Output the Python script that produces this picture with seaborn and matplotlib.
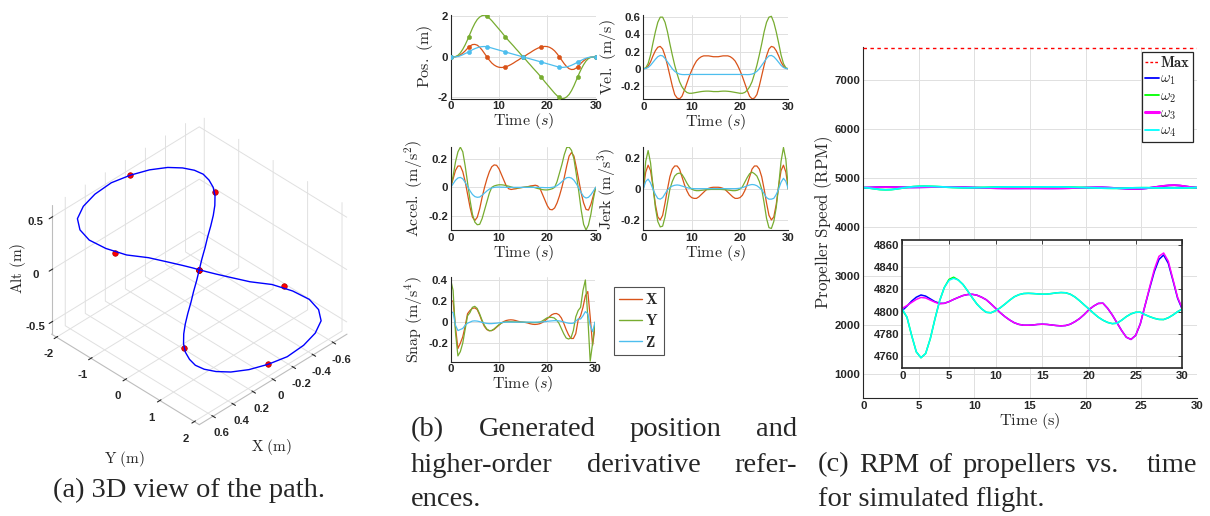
import numpy as np
import pandas as pd
import matplotlib
matplotlib.use("Agg")
import matplotlib.pyplot as plt
import matplotlib.ticker as mticker
from matplotlib.lines import Line2D
import seaborn as sns

sns.set_style("white")
plt.rcParams['font.family'] = ['Liberation Sans', 'DejaVu Sans']
plt.rcParams['font.weight'] = 'bold'
plt.rcParams['mathtext.fontset'] = 'cm'
plt.rcParams['axes.unicode_minus'] = False
plt.rcParams['grid.color'] = '#e0e0e0'
plt.rcParams['grid.linewidth'] = 0.7

W, H = 1210, 516

# ---------------- data ----------------
t_b = np.arange(0, 30.01, 0.5)

wp_t = [0, 3.75, 7.5, 11.25, 15, 18.75, 22.5, 26.25, 30]
wp_x = [0, 0.5, 0, -0.5, 0, 0.5, 0, -0.5, 0]
wp_y = [0, 1, 2, 1, 0, -1, -2, -1, 0]
wp_z = [0, 0.25, 0.5, 0.25, 0, -0.25, -0.5, -0.25, 0]

pos_x = [0, 0, 0.01, 0.04, 0.1, 0.19, 0.3, 0.43, 0.54, 0.61, 0.62, 0.58, 0.48, 0.34, 0.17, 0,
         -0.16, -0.3, -0.4, -0.47, -0.51, -0.52, -0.51, -0.48, -0.43, -0.37, -0.3, -0.22, -0.15, -0.07, 0,
         0.07, 0.15, 0.22, 0.3, 0.37, 0.43, 0.48, 0.51, 0.52, 0.51, 0.47, 0.4, 0.3, 0.16, 0,
         -0.17, -0.34, -0.48, -0.58, -0.62, -0.61, -0.54, -0.43, -0.3, -0.19, -0.1, -0.04, -0.01, 0, 0]
pos_y = [0, 0.003, 0.02, 0.08, 0.2, 0.38, 0.6, 0.86, 1.14, 1.42, 1.66, 1.85, 1.97, 2.04, 2.06, 2.0,
         1.91, 1.79, 1.65, 1.51, 1.37, 1.23, 1.08, 0.94, 0.8, 0.67, 0.54, 0.4, 0.27, 0.13, 0,
         -0.13, -0.27, -0.4, -0.54, -0.67, -0.8, -0.94, -1.08, -1.23, -1.37, -1.51, -1.65, -1.79, -1.91, -2.0,
         -2.06, -2.04, -1.97, -1.85, -1.66, -1.42, -1.14, -0.86, -0.6, -0.38, -0.2, -0.08, -0.02, -0.003, 0]
pos_z = [0, 0.001, 0.006, 0.025, 0.06, 0.11, 0.17, 0.22, 0.29, 0.355, 0.41, 0.455, 0.49, 0.51, 0.515, 0.5,
         0.475, 0.44, 0.405, 0.37, 0.337, 0.303, 0.27, 0.235, 0.2, 0.167, 0.133, 0.1, 0.067, 0.033, 0,
         -0.033, -0.067, -0.1, -0.133, -0.167, -0.2, -0.235, -0.27, -0.303, -0.337, -0.37, -0.405, -0.44, -0.475, -0.5,
         -0.515, -0.51, -0.49, -0.455, -0.41, -0.355, -0.29, -0.22, -0.17, -0.11, -0.06, -0.025, -0.006, -0.001, 0]

vel_x = [0, 0.005, 0.03, 0.08, 0.15, 0.21, 0.25, 0.26, 0.23, 0.15, 0.04, -0.08, -0.2, -0.3, -0.34, -0.35,
         -0.32, -0.25, -0.17, -0.09, -0.02, 0.04, 0.09, 0.12, 0.14, 0.15, 0.15, 0.15, 0.145, 0.14, 0.14,
         0.14, 0.145, 0.15, 0.15, 0.15, 0.14, 0.12, 0.09, 0.04, -0.02, -0.09, -0.17, -0.25, -0.32, -0.35,
         -0.34, -0.3, -0.2, -0.08, 0.04, 0.15, 0.23, 0.26, 0.25, 0.21, 0.15, 0.08, 0.03, 0.005, 0]
vel_y = [0, 0.01, 0.06, 0.16, 0.3, 0.43, 0.54, 0.6, 0.6, 0.54, 0.43, 0.29, 0.16, 0.04, -0.06, -0.15,
         -0.21, -0.25, -0.275, -0.285, -0.285, -0.28, -0.275, -0.27, -0.265, -0.262, -0.26, -0.26, -0.262, -0.265, -0.265,
         -0.265, -0.262, -0.26, -0.26, -0.262, -0.265, -0.27, -0.275, -0.28, -0.285, -0.285, -0.275, -0.25, -0.21, -0.15,
         -0.06, 0.04, 0.16, 0.29, 0.43, 0.54, 0.6, 0.61, 0.54, 0.43, 0.3, 0.16, 0.06, 0.01, 0]
vel_z = [0, 0.003, 0.015, 0.04, 0.075, 0.11, 0.14, 0.155, 0.15, 0.12, 0.08, 0.04, 0.0, -0.03, -0.05, -0.062,
         -0.067, -0.068, -0.067, -0.067, -0.066, -0.066, -0.066, -0.066, -0.066, -0.066, -0.066, -0.066, -0.066, -0.066, -0.066,
         -0.066, -0.066, -0.066, -0.066, -0.066, -0.066, -0.066, -0.066, -0.066, -0.066, -0.067, -0.067, -0.068, -0.067, -0.062,
         -0.05, -0.03, 0.0, 0.04, 0.08, 0.12, 0.15, 0.155, 0.14, 0.11, 0.075, 0.04, 0.015, 0.003, 0]

acc_x = [0, 0.06, 0.12, 0.15, 0.15, 0.11, 0.04, -0.05, -0.14, -0.21, -0.233, -0.21, -0.15, -0.07, 0.0, 0.06,
         0.11, 0.145, 0.158, 0.155, 0.13, 0.09, 0.05, 0.01, -0.01, -0.015, -0.012, -0.01, -0.005, -0.002, 0,
         0.002, 0.005, 0.01, 0.012, 0.015, 0.01, -0.01, -0.05, -0.09, -0.13, -0.155, -0.158, -0.145, -0.11, -0.06,
         0.0, 0.07, 0.15, 0.22, 0.245, 0.22, 0.14, 0.05, -0.04, -0.11, -0.155, -0.16, -0.12, -0.06, 0]
acc_y = [0, 0.08, 0.18, 0.25, 0.283, 0.25, 0.15, 0.03, -0.09, -0.19, -0.245, -0.263, -0.26, -0.22, -0.16, -0.1,
         -0.04, 0.0, 0.01, 0.015, 0.018, 0.018, 0.016, 0.012, 0.008, 0.003, -0.002, -0.004, -0.004, -0.002, 0,
         0.002, 0.004, 0.004, 0.002, -0.003, -0.008, -0.012, -0.016, -0.018, -0.018, -0.015, -0.01, 0.0, 0.04, 0.1,
         0.16, 0.23, 0.28, 0.283, 0.26, 0.2, 0.09, -0.03, -0.16, -0.26, -0.3, -0.265, -0.19, -0.085, 0]
acc_z = [0, 0.025, 0.05, 0.066, 0.07, 0.06, 0.035, 0.005, -0.025, -0.05, -0.065, -0.07, -0.068, -0.055, -0.04, -0.025,
         -0.012, -0.004, 0.0, 0.002, 0.002, 0.001, 0.001, 0.0, 0.0, 0.0, 0.0, 0.0, 0.0, 0.0, 0,
         0, 0, 0, 0, 0, 0, -0.001, -0.001, -0.002, -0.002, -0.002, 0.0, 0.004, 0.012, 0.025,
         0.04, 0.055, 0.068, 0.07, 0.065, 0.05, 0.025, -0.005, -0.037, -0.065, -0.075, -0.07, -0.052, -0.027, 0]

jrk_x = [0, 0.11, 0.155, 0.12, 0.02, -0.1, -0.18, -0.2, -0.17, -0.09, 0.0, 0.08, 0.13, 0.15, 0.15, 0.13,
         0.08, 0.03, -0.01, -0.04, -0.055, -0.06, -0.06, -0.05, -0.035, -0.02, -0.005, 0.005, 0.01, 0.012, 0.012,
         0.012, 0.01, 0.005, -0.005, -0.02, -0.035, -0.05, -0.06, -0.06, -0.055, -0.04, -0.01, 0.03, 0.08, 0.13,
         0.15, 0.15, 0.13, 0.08, 0.0, -0.09, -0.17, -0.2, -0.18, -0.1, 0.02, 0.12, 0.155, 0.11, 0]
jrk_y = [0, 0.18, 0.25, 0.17, 0.02, -0.12, -0.21, -0.245, -0.24, -0.18, -0.09, 0.0, 0.05, 0.085, 0.1, 0.104,
         0.095, 0.07, 0.04, 0.015, 0.0, -0.007, -0.01, -0.01, -0.008, -0.006, -0.004, -0.003, -0.002, -0.002, -0.002,
         -0.002, -0.002, -0.003, -0.004, -0.006, -0.008, -0.01, -0.01, -0.007, 0.0, 0.015, 0.045, 0.075, 0.1, 0.11,
         0.1, 0.085, 0.05, 0.0, -0.09, -0.19, -0.25, -0.255, -0.21, -0.12, 0.02, 0.18, 0.27, 0.19, 0]
jrk_z = [0, 0.05, 0.065, 0.04, 0.0, -0.035, -0.06, -0.065, -0.055, -0.03, -0.005, 0.01, 0.02, 0.025, 0.027, 0.025,
         0.02, 0.015, 0.01, 0.006, 0.004, 0.003, 0.003, 0.003, 0.003, 0.003, 0.003, 0.003, 0.003, 0.003, 0.003,
         0.003, 0.003, 0.003, 0.003, 0.003, 0.003, 0.003, 0.003, 0.004, 0.006, 0.01, 0.015, 0.022, 0.027, 0.03,
         0.028, 0.022, 0.01, -0.005, -0.03, -0.055, -0.065, -0.065, -0.06, -0.035, 0.0, 0.045, 0.07, 0.05, 0]

snp_x = [0.2, 0.2, -0.05, -0.25, -0.2, -0.14, -0.04, 0.08, 0.11, 0.13, 0.135, 0.12, 0.07, 0.01, -0.04, -0.07,
         -0.082, -0.08, -0.07, -0.05, -0.03, -0.01, 0.005, 0.015, 0.02, 0.022, 0.02, 0.015, 0.008, 0.003, 0.0,
         -0.003, -0.008, -0.015, -0.02, -0.022, -0.02, -0.015, -0.005, 0.01, 0.03, 0.05, 0.07, 0.08, 0.082, 0.07,
         0.04, -0.01, -0.07, -0.12, -0.155, -0.155, -0.11, 0.02, 0.06, 0.14, 0.25, 0.29, 0.05, -0.22, -0.05]
snp_y = [0.4, 0.3, -0.1, -0.32, -0.28, -0.2, -0.07, 0.06, 0.09, 0.14, 0.15, 0.13, 0.08, 0.02, -0.03, -0.065,
         -0.08, -0.08, -0.065, -0.045, -0.025, -0.01, 0.0, 0.003, 0.004, 0.004, 0.003, 0.002, 0.001, 0.0, 0.0,
         -0.001, -0.002, -0.003, -0.004, -0.004, -0.003, 0.0, 0.01, 0.025, 0.04, 0.045, 0.045, 0.04, 0.02, -0.01,
         -0.06, -0.11, -0.15, -0.16, -0.15, -0.08, 0.05, 0.11, 0.14, 0.3, 0.4, 0.05, -0.37, -0.2, 0.0]
snp_z = [0.1, 0.09, -0.03, -0.08, -0.07, -0.06, -0.03, -0.01, 0.0, 0.01, 0.012, 0.01, 0.005, -0.002, -0.008, -0.012,
         -0.014, -0.014, -0.012, -0.01, -0.007, -0.004, -0.002, 0.0, 0.0, 0.0, 0.0, 0.0, 0.0, 0.0, 0.0,
         0.0, 0.0, 0.0, 0.0, 0.0, 0.0, 0.0, 0.002, 0.004, 0.007, 0.01, 0.012, 0.014, 0.014, 0.012,
         0.008, 0.002, -0.005, -0.01, -0.012, -0.01, 0.01, 0.03, 0.03, 0.06, 0.1, 0.08, -0.03, -0.09, 0.0]

t_rpm = np.arange(0, 30.01, 0.5)
rpm_max = 7650
rpm_w1 = [4801, 4805, 4809.5, 4813, 4815, 4814, 4811.5, 4809, 4807.5, 4807.5,
          4809, 4811, 4812.8, 4814.5, 4815.4, 4815.6, 4814.8, 4813, 4810.7, 4807,
          4803, 4799, 4795.5, 4792.5, 4790, 4788.5, 4787.8, 4787.8, 4788, 4788.5,
          4788.7, 4788.5, 4788, 4787.5, 4787.2, 4787.5, 4788.7, 4791, 4793.8, 4797.5,
          4801.8, 4805, 4807.4, 4807.6, 4803, 4797, 4790, 4783, 4777, 4775,
          4778.6, 4789, 4805.3, 4821, 4836, 4847, 4851, 4843.5, 4828, 4812, 4802]
rpm_w2 = [4801.5, 4795, 4778.6, 4763.8, 4758.5, 4762.3, 4775.7, 4793.5, 4809.8, 4821.7,
          4829, 4831, 4828.5, 4824.5, 4818.7, 4812.5, 4806.8, 4802.5, 4799.4, 4799,
          4800.9, 4803.5, 4806.8, 4810.3, 4813.4, 4815.3, 4816.3, 4816.5, 4816.3, 4816,
          4815.7, 4815.8, 4816.3, 4816.9, 4817.2, 4817, 4815.7, 4813.2, 4809.8, 4806,
          4802.4, 4798.5, 4795, 4792.3, 4790.3, 4789.2, 4789.6, 4792.3, 4795.5, 4798,
          4799.4, 4799.5, 4797.3, 4795.5, 4794, 4793, 4792.9, 4794.5, 4797, 4800, 4802.4]
rpm_w3 = [4803, 4805.5, 4808.3, 4811, 4812.8, 4812.3, 4810.4, 4808.5, 4807, 4807.5,
          4809, 4811, 4812.8, 4814.5, 4815.4, 4815.6, 4814.8, 4813, 4810.7, 4807,
          4803, 4799, 4795.5, 4792.5, 4790, 4788.5, 4787.8, 4787.8, 4788, 4788.5,
          4788.7, 4788.5, 4788, 4787.5, 4787.2, 4787.5, 4788.7, 4791, 4793.8, 4797.5,
          4801.8, 4805, 4807.4, 4807.6, 4803, 4797, 4790, 4783, 4777, 4775,
          4778.6, 4789, 4805.3, 4822, 4838, 4849.8, 4852.8, 4845.4, 4829, 4812.8, 4803]
rpm_w4 = [4802.4, 4795, 4778.6, 4763.8, 4758.5, 4762.3, 4775.7, 4793.5, 4809.8, 4821.7,
          4828.2, 4830, 4828.5, 4824.5, 4818.7, 4812.5, 4806.8, 4802.5, 4799.4, 4799,
          4800.9, 4803.5, 4806.8, 4810.3, 4813.4, 4815.3, 4816.3, 4816.5, 4816.3, 4816,
          4815.7, 4815.8, 4816.3, 4816.9, 4817.2, 4817, 4815.7, 4813.2, 4809.8, 4806,
          4802.4, 4798.5, 4795, 4792.3, 4790.3, 4789.2, 4789.6, 4792.3, 4795.5, 4798,
          4799.4, 4799.5, 4797.3, 4795.5, 4794, 4793, 4792.9, 4794.5, 4797, 4800, 4802.4]

C_X, C_Y, C_Z = '#D95319', '#77AC30', '#4DBEEE'
TXT = '#262626'
TICK_FS = 8.2

fig = plt.figure(figsize=(W / 100, H / 100), dpi=100)


def box(l, t, r, b, **kw):
    return fig.add_axes([l / W, 1 - b / H, (r - l) / W, (b - t) / H], **kw)


def boldticks(ax):
    for lab in ax.get_xticklabels() + ax.get_yticklabels():
        lab.set_fontweight('bold')
        lab.set_fontfamily('Liberation Sans')


def style2d(ax, ylim, yticks, ylabel, xlim=(0, 30), xticks=(0, 10, 20, 30), fs=11.5):
    ax.set_xlim(*xlim)
    ax.set_ylim(*ylim)
    ax.set_xticks(xticks)
    ax.set_yticks(yticks)
    ax.xaxis.set_major_formatter(mticker.FormatStrFormatter('%g'))
    ax.yaxis.set_major_formatter(mticker.FormatStrFormatter('%g'))
    ax.grid(True)
    ax.tick_params(direction='in', length=3, width=0.6, colors=TXT, labelsize=TICK_FS, pad=2)
    for s in ['top', 'right']:
        ax.spines[s].set_visible(False)
    for s in ['left', 'bottom']:
        ax.spines[s].set_color(TXT)
        ax.spines[s].set_linewidth(0.8)
    ax.set_xlabel(r'$\mathrm{Time}\ (s)$', fontsize=fs, labelpad=0)
    ax.set_ylabel(ylabel, fontsize=fs, labelpad=2)
    boldticks(ax)


def draw3(ax, sx, sy, sz):
    for s, c in zip((sx, sy, sz), (C_X, C_Y, C_Z)):
        sns.lineplot(x=t_b, y=s, ax=ax, color=c, linewidth=0.9, legend=False)


# ---------------- panel (b) ----------------
ax_p = box(450.7, 15, 595.7, 98.7)
draw3(ax_p, pos_x, pos_y, pos_z)
for s, c in zip((wp_x, wp_y, wp_z), (C_X, C_Y, C_Z)):
    sns.scatterplot(x=wp_t, y=s, ax=ax_p, color=c, s=9, edgecolor=c, linewidth=0.4, legend=False, zorder=3)
style2d(ax_p, (-2.06, 2.07), [-2, 0, 2], r'$\mathrm{Pos.\ (m)}$')

ax_v = box(643.3, 15, 788.3, 99.3)
draw3(ax_v, vel_x, vel_y, vel_z)
style2d(ax_v, (-0.355, 0.625), [-0.2, 0, 0.2, 0.4, 0.6], r'$\mathrm{Vel.\ (m/s)}$')

ax_a = box(450.7, 146.7, 595.7, 230)
draw3(ax_a, acc_x, acc_y, acc_z)
style2d(ax_a, (-0.30, 0.286), [-0.2, 0, 0.2], r'$\mathrm{Accel.\ (m/s^2)}$')

ax_j = box(643.3, 146.7, 788.3, 230)
draw3(ax_j, jrk_x, jrk_y, jrk_z)
style2d(ax_j, (-0.265, 0.275), [-0.2, 0, 0.2], r'$\mathrm{Jerk\ (m/s^3)}$')

ax_s = box(450.7, 277.3, 595.0, 361.7)
draw3(ax_s, snp_x, snp_y, snp_z)
style2d(ax_s, (-0.375, 0.425), [-0.2, 0, 0.2, 0.4], r'$\mathrm{Snap\ (m/s^4)}$')

hb = [Line2D([], [], color=c, lw=1.0) for c in (C_X, C_Y, C_Z)]
lgb = fig.legend(hb, [r'$\mathbf{X}$', r'$\mathbf{Y}$', r'$\mathbf{Z}$'],
                 loc='upper left', bbox_to_anchor=(614 / W, 1 - 287 / H),
                 frameon=True, fancybox=False, edgecolor=TXT, fontsize=11,
                 handlelength=1.5, handletextpad=0.2, borderpad=0.35, labelspacing=0.4,
                 borderaxespad=0)
lgb.get_frame().set_linewidth(0.8)

# ---------------- panel (c) ----------------
ax_c = box(863.3, 47.3, 1196.7, 398.3)
ax_c.axhline(rpm_max, color='red', linestyle=(0, (2.5, 2.5)), linewidth=1.0, zorder=4)
for s, c in zip((rpm_w1, rpm_w2, rpm_w3, rpm_w4), ('#0000FF', '#00FF00', '#FF00FF', '#00FFFF')):
    sns.lineplot(x=t_rpm, y=s, ax=ax_c, color=c, linewidth=1.3, legend=False)
style2d(ax_c, (500, 7668), [1000, 2000, 3000, 4000, 5000, 6000, 7000], r'$\mathrm{Propeller\ Speed\ (RPM)}$',
        xticks=[0, 5, 10, 15, 20, 25, 30])
ax_c.set_xlabel(r'$\mathrm{Time\ (s)}$', fontsize=11.8, labelpad=0)
ax_c.set_ylabel(r'$\mathrm{Propeller\ Speed\ (RPM)}$', fontsize=12.2, labelpad=0)

hc = [Line2D([], [], color='red', lw=1.0, ls=(0, (2, 1.5))),
      Line2D([], [], color='#0000FF', lw=1.3), Line2D([], [], color='#00FF00', lw=1.3),
      Line2D([], [], color='#FF00FF', lw=2.2), Line2D([], [], color='#00FFFF', lw=1.3)]
lgc = ax_c.legend(hc, [r'$\mathbf{Max}$', r'$\omega_1$', r'$\omega_2$', r'$\omega_3$', r'$\omega_4$'],
                  loc='upper right', bbox_to_anchor=((1193.3 - 863.3) / 333.4, 1 - (52.3 - 47.3) / 351),
                  frameon=True, fancybox=False, edgecolor=TXT, fontsize=10.5,
                  handlelength=0.9, handletextpad=0.1, borderpad=0.2, labelspacing=0.12,
                  borderaxespad=0, framealpha=1)
lgc.get_frame().set_linewidth(0.9)

ax_i = box(902.3, 240, 1182.3, 368.3)
for s, c in zip((rpm_w1, rpm_w2, rpm_w3, rpm_w4), ('#0000FF', '#00FF00', '#FF00FF', '#00FFFF')):
    sns.lineplot(x=t_rpm, y=s, ax=ax_i, color=c, linewidth=1.1, legend=False)
ax_i.set_xlim(0, 30)
ax_i.set_ylim(4749, 4864.5)
ax_i.set_xticks([0, 5, 10, 15, 20, 25, 30])
ax_i.set_yticks([4760, 4780, 4800, 4820, 4840, 4860])
ax_i.grid(True)
ax_i.set_facecolor('white')
ax_i.tick_params(direction='in', length=3, width=0.6, colors=TXT, labelsize=TICK_FS, pad=2,
                 top=True, right=True)
for s in ax_i.spines.values():
    s.set_visible(True)
    s.set_color(TXT)
    s.set_linewidth(1.2)
ax_i.set_xlabel('')
ax_i.set_ylabel('')
boldticks(ax_i)

# ---------------- panel (a) 3D ----------------
ax3 = box(-1, 75, 389, 475, projection='3d')
ax3.set_proj_type('ortho')
ax3.view_init(elev=37.8, azim=45)
ax3.set_box_aspect((1, 1, 0.78), zoom=0.84)
path_y = [-v for v in pos_y]
ax3.plot(pos_x, path_y, pos_z, color='#0000FF', linewidth=1.0)
ax3.scatter(wp_x, [-v for v in wp_y], wp_z, color='red', s=16, edgecolor='#aa0000', linewidth=0.5,
            depthshade=False, zorder=5)
ax3.set_xlim(-0.737, 0.737)
ax3.set_ylim(-2.145, 2.145)
ax3.set_zlim(-0.615, 0.615)
ax3.set_xticks([-0.6, -0.4, -0.2, 0, 0.2, 0.4, 0.6])
ax3.set_yticks([-2, -1, 0, 1, 2])
ax3.set_zticks([-0.5, 0, 0.5])
for a in (ax3.xaxis, ax3.yaxis, ax3.zaxis):
    a.set_pane_color((1, 1, 1, 0))
    a.pane.set_edgecolor('#d8d8d8')
    a.line.set_color('#bdbdbd')
    a.line.set_linewidth(0.8)
    a.set_major_formatter(mticker.FormatStrFormatter('%g'))
ax3.tick_params(labelsize=TICK_FS, colors=TXT, pad=0)
for lab in ax3.get_xticklabels() + ax3.get_yticklabels() + ax3.get_zticklabels():
    lab.set_fontweight('bold')
ax3.set_xlabel('')
ax3.set_ylabel('')
ax3.set_zlabel('')

fig.text(18 / W, 1 - 268 / H, r'$\mathrm{Alt\ (m)}$', rotation=90, fontsize=11, ha='center', va='center')
fig.text(125 / W, 1 - 459 / H, r'$\mathrm{Y\ (m)}$', fontsize=11, ha='center', va='center')
fig.text(272 / W, 1 - 447 / H, r'$\mathrm{X\ (m)}$', fontsize=11, ha='center', va='center')

# ---------------- captions ----------------
cap_kw = dict(family='Liberation Serif', fontweight='normal', fontsize=20.5, va='center')
renderer = fig.canvas.get_renderer()


def justify(words, x0, x1, y, weights=None):
    texts = [fig.text(0, 1 - y / H, w, ha='left', **cap_kw) for w in words]
    widths = [t.get_window_extent(renderer).width for t in texts]
    n = len(words) - 1
    weights = weights or [1] * n
    unit = (x1 - x0 - sum(widths)) / sum(weights)
    x = x0
    for i, (t, wd) in enumerate(zip(texts, widths)):
        t.set_x(x / W)
        x += wd + (unit * weights[i] if i < n else 0)


fig.text(53 / W, 1 - 490 / H, '(a) 3D view of the path.', ha='left', **cap_kw)
justify(['(b)', 'Generated', 'position', 'and'], 411, 797, 430)
justify(['higher-order', 'derivative', 'refer-'], 411, 797, 465)
fig.text(411 / W, 1 - 500 / H, 'ences.', ha='left', **cap_kw)
justify(['(c)', 'RPM', 'of', 'propellers', 'vs.', 'time'], 818, 1197, 465, weights=[1, 1, 1, 1, 3])
fig.text(818 / W, 1 - 500 / H, 'for simulated flight.', ha='left', **cap_kw)

fig.savefig('out.png', dpi=100)
